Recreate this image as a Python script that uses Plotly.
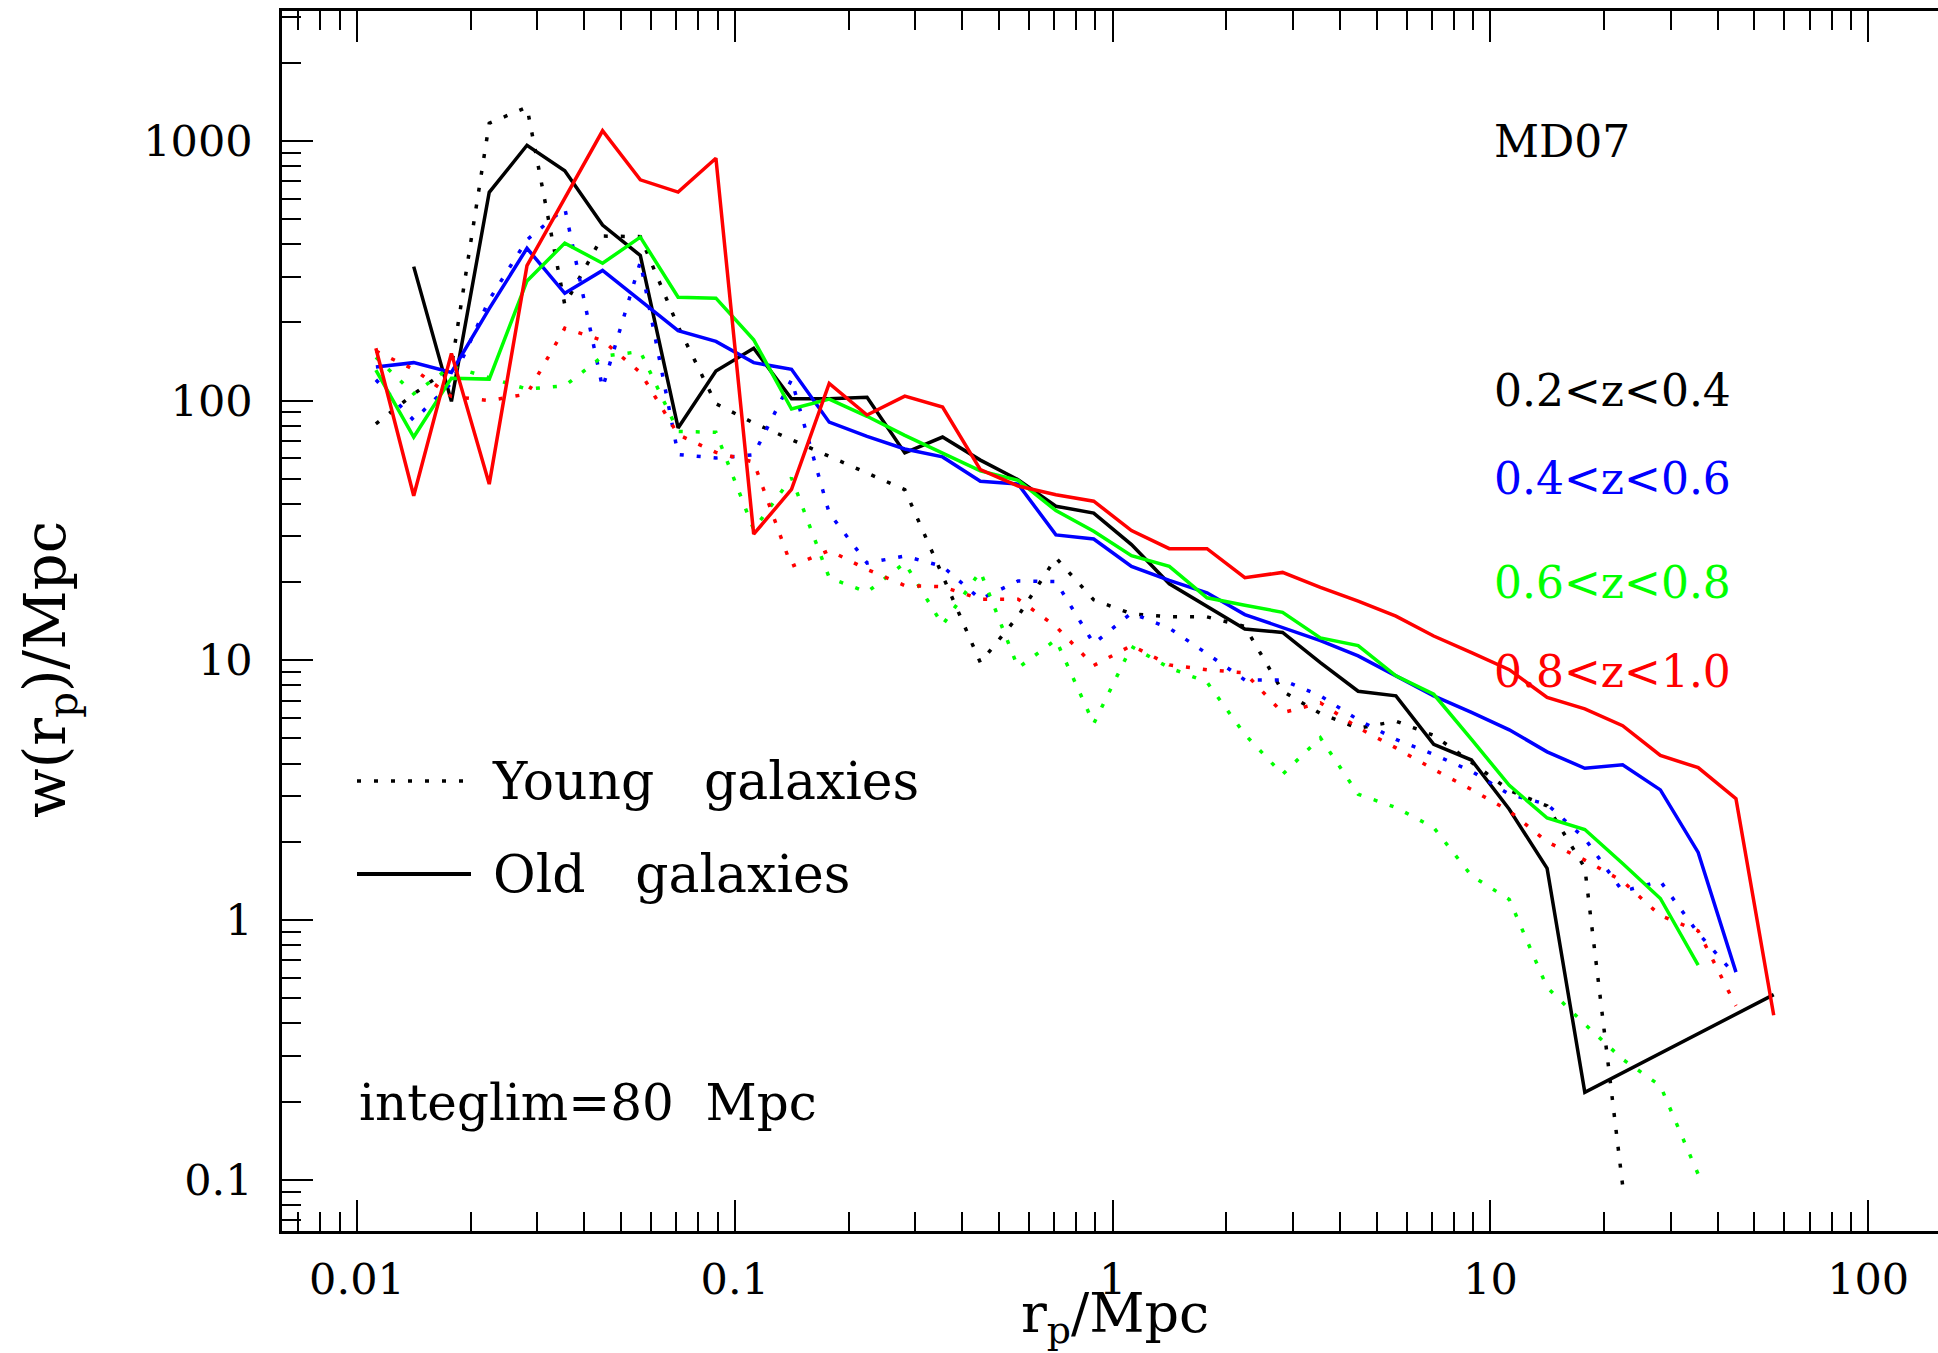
import plotly.graph_objects as go

# Projected separation: centres of 0.1 dex bins (Mpc)
r_p = [0.01122, 0.01413, 0.01778, 0.02239, 0.02818, 0.03548, 0.04467, 0.05623,
       0.07079, 0.08913, 0.1122, 0.1413, 0.1778, 0.2239, 0.2818, 0.3548,
       0.4467, 0.5623, 0.7079, 0.8913, 1.122, 1.413, 1.778, 2.239,
       2.818, 3.548, 4.467, 5.623, 7.079, 8.913, 11.22, 14.13,
       17.78, 22.39, 28.18, 35.48, 44.67, 56.23]

# w(r_p) for old (solid) and young (dotted) galaxies in four redshift slices
old_z02_04 = [None, 328, 99.3, 634, 962, 767, 474, 362, 78.5, 130, 159, 101.7,
              101.7, 103, 62.9, 72.4, 59, 49.6, 39.2, 36.9, 27.9, 19.7, 16.2, 13.2,
              12.8, 9.8, 7.6, 7.3, 4.75, 4.13, 2.67, 1.58, 0.217, None, None, None,
              None, 0.516]
young_z02_04 = [81.3, 106, 135, 1170, 1349, 234, 430, 428, 193, 97.3, 82, 70.7,
                61.4, 52.9, 45.4, 21.2, 9.8, 14.8, 24.8, 17.1, 15.1, 14.7, 14.7, 13.5,
                7.6, 6.24, 5.47, 5.83, 5.14, 4.05, 3.16, 2.75, 1.59, 0.095]

old_z04_06 = [134.7, 140, 128.4, 226, 386, 259, 317, 242, 186, 169, 140, 132,
              82.6, 72.8, 65.1, 60.7, 48.9, 47.7, 30.4, 29.3, 23, 20.3, 18.2, 15,
              13.4, 11.9, 10.4, 8.7, 7.3, 6.3, 5.4, 4.44, 3.84, 3.96, 3.17, 1.82,
              0.63]
young_z04_06 = [120.3, 84, 117, 244.5, 416, 551, 112, 342, 62, 60.1, 61.9, 120.3,
                36.9, 23.7, 25.2, 23, 17.2, 20.2, 20.1, 11.6, 15.2, 13.3, 10.6, 8.4,
                8.4, 7.3, 5.9, 4.96, 4.34, 3.74, 3.05, 2.79, 2.06, 1.29, 1.41, 0.89,
                0.61]

old_z06_08 = [131, 72.4, 122, 121, 289, 404, 338, 426, 250, 248, 171.5, 92.8,
              101.4, 87, 73.5, 62.6, 53.6, 49.3, 37.7, 31.4, 25.3, 23, 17.4, 16.3,
              15.3, 12.2, 11.4, 8.72, 7.4, 4.96, 3.3, 2.47, 2.23, 1.65, 1.21, 0.67]
young_z06_08 = [147, 106.3, 135.4, 122, 110.8, 114, 148, 154.6, 76.1, 75.5, 31.9, 50.4,
                20.8, 18.3, 23.7, 13.7, 22, 9.35, 12, 5.7, 11.3, 9.36, 8.24, 5.18,
                3.64, 5.03, 3.05, 2.71, 2.27, 1.48, 1.2, 0.55, 0.397, 0.291, 0.23, 0.105]

old_z08_10 = [159, 43, 152, 47.7, 331, 600, 1094, 708, 635, 858, 30.6, 45.5,
              116.5, 88, 104, 94.5, 54.2, 46.9, 43.4, 41, 31.6, 26.9, 26.9, 20.8,
              21.8, 19.1, 16.9, 14.8, 12.4, 10.7, 9.2, 7.2, 6.5, 5.6, 4.3, 3.86,
              2.93, 0.43]
young_z08_10 = [155, 132, 103.8, 100, 106, 190, 170.5, 128.4, 74, 63.2, 58, 23,
                26.5, 22.4, 19.4, 19.2, 17.2, 17.2, 13.5, 9.55, 11.4, 9.6, 9.2, 8.95,
                6.28, 6.86, 5.5, 4.6, 3.8, 3.18, 2.63, 2.0, 1.7, 1.41, 1.04, 0.908,
                0.467]

slices = [
    ("0.2&lt;z&lt;0.4", "#000000", young_z02_04, old_z02_04),
    ("0.4&lt;z&lt;0.6", "#0000ff", young_z04_06, old_z04_06),
    ("0.6&lt;z&lt;0.8", "#00ff00", young_z06_08, old_z06_08),
    ("0.8&lt;z&lt;1.0", "#ff0000", young_z08_10, old_z08_10),
]

x_major = [0.01, 0.1, 1, 10, 100]
x_major_text = ["0.01", "0.1", "1", "10", "100"]
y_major = [0.1, 1, 10, 100, 1000]
y_major_text = ["0.1", "1", "10", "100", "1000"]
x_minor = [0.007, 0.008, 0.009] + [m * d for d in (0.01, 0.1, 1, 10) for m in range(2, 10)]
y_minor = [0.07, 0.08, 0.09] + [m * d for d in (0.1, 1, 10, 100) for m in range(2, 10)] + [2000, 3000]

FONT = "DejaVu Serif"
W, H = 1938, 1353
ML, MR, MT, MB = 282, 0, 11, 122
PW, PH = W - ML - MR, H - MT - MB
SOLID_W = 3.5
DOT_W = 3.5
DOT_DASH = "4px,13px"


def px(x):
    return (x - ML) / PW


def py(y):
    return (H - MB - y) / PH


fig = go.Figure()

for label, colour, young, old in slices:
    fig.add_trace(go.Scatter(
        x=r_p[:len(young)], y=young, mode="lines", name=label + " young",
        line=dict(color=colour, width=DOT_W, dash=DOT_DASH),
        showlegend=False, hoverinfo="skip"))
    fig.add_trace(go.Scatter(
        x=r_p[:len(old)], y=old, mode="lines", name=label + " old",
        line=dict(color=colour, width=SOLID_W), connectgaps=True,
        showlegend=False, hoverinfo="skip"))

tick_font = dict(family=FONT, size=43, color="black")

fig.update_layout(
    width=W, height=H,
    margin=dict(l=ML, r=MR, t=MT, b=MB, pad=0),
    paper_bgcolor="white", plot_bgcolor="white",
    showlegend=False,
    font=dict(family=FONT, color="black", size=43),
    xaxis=dict(
        type="log", range=[-2.1985, 2.1848],
        showline=True, linecolor="black", linewidth=2.5, mirror="ticks",
        ticks="inside", ticklen=31, tickwidth=2, tickcolor="black",
        tickvals=x_major, ticktext=x_major_text, tickfont=tick_font,
        ticklabelstandoff=9,
        showgrid=False, zeroline=False,
        minor=dict(tickvals=x_minor, ticks="inside", ticklen=19, tickwidth=2,
                   tickcolor="black", showgrid=False),
    ),
    yaxis=dict(
        type="log", range=[-1.1975, 3.5002],
        showline=True, linecolor="black", linewidth=2.5, mirror=False,
        ticks="inside", ticklen=31, tickwidth=2, tickcolor="black",
        tickvals=y_major, ticktext=y_major_text, tickfont=tick_font,
        ticklabelstandoff=18,
        showgrid=False, zeroline=False,
        minor=dict(tickvals=y_minor, ticks="inside", ticklen=19, tickwidth=2,
                   tickcolor="black", showgrid=False),
    ),
    yaxis2=dict(
        type="log", range=[-1.1975, 3.5002], overlaying="y", side="right",
        showline=False, ticks="inside", ticklen=25, tickwidth=2, tickcolor="black",
        tickvals=y_major, showticklabels=False,
        showgrid=False, zeroline=False,
        minor=dict(tickvals=y_minor, ticks="inside", ticklen=12, tickwidth=2,
                   tickcolor="black", showgrid=False),
    ),
)

annotations = []


def text(s, x, y, size=44, colour="black", xanchor="left", angle=0):
    annotations.append(dict(
        text=s, x=px(x), y=py(y), xref="paper", yref="paper",
        xanchor=xanchor, yanchor="middle", showarrow=False, textangle=angle,
        font=dict(family=FONT, size=size, color=colour)))


text("MD07", 1492, 141)
z_rows = [390, 478, 582, 672]
for (label, colour, _, _), yrow in zip(slices, z_rows):
    text(label, 1492, yrow, colour=colour)

text("Young   galaxies", 490, 781, size=52)
text("Old   galaxies", 491, 874, size=52)
text("integlim=80  Mpc", 357, 1103, size=50)

# axis titles
text("r<sub>p</sub>/Mpc", 1115, 1317, size=54, xanchor="center")
text("w(r<sub>p</sub>)/Mpc", 49, 670, size=58, xanchor="center", angle=-90)

fig.update_layout(annotations=annotations)

# line-style key
fig.add_shape(type="line", xref="paper", yref="paper",
              x0=px(357), x1=px(464), y0=py(781), y1=py(781),
              line=dict(color="black", width=DOT_W, dash=DOT_DASH))
fig.add_shape(type="line", xref="paper", yref="paper",
              x0=px(357), x1=px(471), y0=py(874), y1=py(874),
              line=dict(color="black", width=4))

fig.write_html("out.html")
